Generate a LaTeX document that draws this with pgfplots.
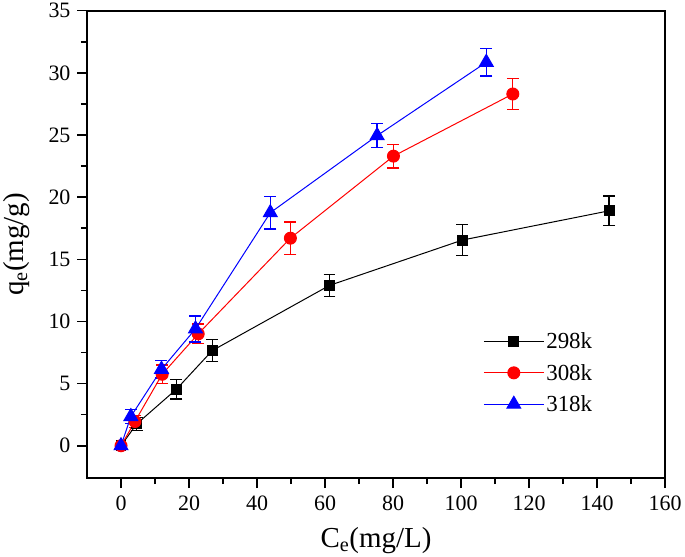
\documentclass[border=0pt]{standalone}
\usepackage{fontspec}
\setmainfont{Liberation Serif}
\usepackage{pgfplots}
\usepackage{pgfplotstable}
\pgfplotsset{compat=1.18}

\pgfplotstableread{
x     y     e
0     0     0.15
4.6   1.75  0.5
16.3  4.55  0.8
26.8  7.65  0.9
61.3  12.9  0.9
100.4 16.55 1.25
143.5 18.9  1.2
}\tblA
\pgfplotstableread{
x     y     e
0     0     0.15
4.1   1.95  0.5
12.1  5.75  0.75
22.7  9.0   0.8
49.8  16.7  1.3
80.1  23.3  0.95
115.2 28.3  1.25
}\tblB
\pgfplotstableread{
x     y     e
0     0     0.15
2.9   2.35  0.55
11.9  6.15  0.7
21.9  9.4   1.05
43.9  18.75 1.3
75.3  24.95 0.95
107.4 30.85 1.1
}\tblC

\begin{document}
\begin{tikzpicture}[font=\fontsize{22}{26}\selectfont]
\begin{axis}[
  scale only axis,
  width=579pt, height=468pt,
  xmin=-10, xmax=160, ymin=-2.6, ymax=35,
  xtick={0,20,...,160}, ytick={0,5,...,35},
  minor x tick num=1, minor y tick num=1,
  tick align=outside, xtick pos=bottom, ytick pos=left,
  major tick length=10pt, minor tick length=6pt,
  every tick/.style={black, line width=1.5pt},
  axis line style={line width=2pt},
  xticklabel={\pgfmathprintnumber[assume math mode=true]{\tick}},
  yticklabel={\pgfmathprintnumber[assume math mode=true]{\tick}},
  yticklabel style={xshift=-3pt},
  xticklabel style={yshift=-4pt},
  xlabel={C\textsubscript{e}(mg/L)},
  ylabel={q\textsubscript{e}(mg/g)},
  label style={font=\fontsize{29}{33}\selectfont},
  ylabel style={yshift=12pt},
  xlabel style={yshift=-10pt},
  legend style={draw=none, fill=none, at={(0.68,0.32)}, anchor=north west,
    row sep=10pt, font=\fontsize{23}{26}\selectfont},
  legend cell align=left,
  legend image code/.code={\draw[mark repeat=2, mark phase=2]
    plot coordinates {(0pt,0pt)(30pt,0pt)(60pt,0pt)};},
  error bars/error bar style={line width=1.3pt},
  error bars/error mark options={mark size=6pt, line width=1.3pt, rotate=90},
]
\addplot[black, line width=1pt, mark=square*, mark size=5pt,
  mark options={solid, fill=black},
  error bars/.cd, y dir=both, y explicit]
  table[x=x, y=y, y error=e] {\tblA};
\addlegendentry{298k}
\addplot[red, line width=1pt, mark=*, mark size=6pt,
  mark options={solid, fill=red},
  error bars/.cd, y dir=both, y explicit]
  table[x=x, y=y, y error=e] {\tblB};
\addlegendentry{308k}
\addplot[blue, line width=1pt, mark=triangle*, mark size=8pt,
  mark options={solid, fill=blue},
  error bars/.cd, y dir=both, y explicit]
  table[x=x, y=y, y error=e] {\tblC};
\addlegendentry{318k}
\end{axis}
\end{tikzpicture}
\end{document}
